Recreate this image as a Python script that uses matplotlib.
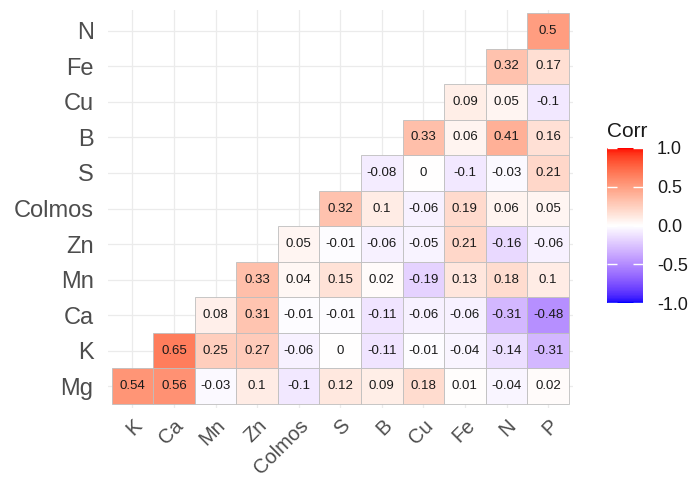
import numpy as np
import matplotlib
matplotlib.use("Agg")
import matplotlib.pyplot as plt
from matplotlib.colors import ListedColormap, Normalize
from matplotlib.cm import ScalarMappable

plt.rcParams['font.family'] = ['Liberation Sans', 'DejaVu Sans']

# ---------------- data ----------------
x_labels = ["K", "Ca", "Mn", "Zn", "Colmos", "S", "B", "Cu", "Fe", "N", "P"]
y_labels = ["Mg", "K", "Ca", "Mn", "Zn", "Colmos", "S", "B", "Cu", "Fe", "N"]

corr_Mg = [0.54, 0.56, -0.03, 0.1, -0.1, 0.12, 0.09, 0.18, 0.01, -0.04, 0.02]
corr_K = [0.65, 0.25, 0.27, -0.06, 0, -0.11, -0.01, -0.04, -0.14, -0.31]
corr_Ca = [0.08, 0.31, -0.01, -0.01, -0.11, -0.06, -0.06, -0.31, -0.48]
corr_Mn = [0.33, 0.04, 0.15, 0.02, -0.19, 0.13, 0.18, 0.1]
corr_Zn = [0.05, -0.01, -0.06, -0.05, 0.21, -0.16, -0.06]
corr_Colmos = [0.32, 0.1, -0.06, 0.19, 0.06, 0.05]
corr_S = [-0.08, 0, -0.1, -0.03, 0.21]
corr_B = [0.33, 0.06, 0.41, 0.16]
corr_Cu = [0.09, 0.05, -0.1]
corr_Fe = [0.32, 0.17]
corr_N = [0.5]

rows = [corr_Mg, corr_K, corr_Ca, corr_Mn, corr_Zn, corr_Colmos,
        corr_S, corr_B, corr_Cu, corr_Fe, corr_N]

n = len(x_labels)

# ---------------- Lab-interpolated diverging palette (like scale_fill_gradient2) ----------------
WHITE = np.array([0.95047, 1.0, 1.08883])

def srgb_to_lab(rgb):
    c = np.array(rgb, dtype=float)
    lin = np.where(c <= 0.04045, c / 12.92, ((c + 0.055) / 1.055) ** 2.4)
    M = np.array([[0.4124, 0.3576, 0.1805],
                  [0.2126, 0.7152, 0.0722],
                  [0.0193, 0.1192, 0.9505]])
    xyz = M @ lin / WHITE
    d = 6 / 29
    f = np.where(xyz > d ** 3, np.cbrt(xyz), xyz / (3 * d * d) + 4 / 29)
    return np.array([116 * f[1] - 16, 500 * (f[0] - f[1]), 200 * (f[1] - f[2])])

def lab_to_srgb(lab):
    L, a, b = lab
    fy = (L + 16) / 116
    fx = fy + a / 500
    fz = fy - b / 200
    d = 6 / 29
    f = np.array([fx, fy, fz])
    xyz = np.where(f > d, f ** 3, 3 * d * d * (f - 4 / 29)) * WHITE
    Minv = np.array([[3.2406, -1.5372, -0.4986],
                     [-0.9689, 1.8758, 0.0415],
                     [0.0557, -0.2040, 1.0570]])
    lin = Minv @ xyz
    lin = np.clip(lin, 0, 1)
    c = np.where(lin <= 0.0031308, 12.92 * lin, 1.055 * lin ** (1 / 2.4) - 0.055)
    return np.clip(c, 0, 1)

lab_low = srgb_to_lab([0, 0, 1])
lab_mid = srgb_to_lab([1, 1, 1])
lab_high = srgb_to_lab([1, 0, 0])
cols = []
for v in np.linspace(-1, 1, 256):
    if v < 0:
        lab = lab_mid + (lab_low - lab_mid) * (-v)
    else:
        lab = lab_mid + (lab_high - lab_mid) * v
    cols.append(lab_to_srgb(lab))
cmap = ListedColormap(cols)
norm = Normalize(-1, 1)

# ---------------- figure ----------------
W, H = 689, 479
fig = plt.figure(figsize=(W / 100, H / 100), dpi=100)
fig.patch.set_facecolor("white")
ax = fig.add_axes([107.5 / W, 1 - 407.5 / H, (573 - 107.5) / W, (407.5 - 9.5) / H])

for r, vals in enumerate(rows):
    xpos = np.arange(r, r + len(vals))
    ax.bar(xpos, 1.0, bottom=r - 0.5, width=1.0,
           color=[cmap(norm(v)) for v in vals],
           edgecolor="#BEBEBE", linewidth=0.6, zorder=2)
    for xp, v in zip(xpos, vals):
        ax.text(xp, r, f"{v:g}", ha="center", va="center",
                fontsize=9.5, color="#1A1A1A", zorder=3)

ax.set_xlim(-0.6, n - 0.4)
ax.set_ylim(-0.6, n - 0.4)
ax.set_xticks(np.arange(n))
ax.set_yticks(np.arange(n))
ax.set_xticklabels(x_labels, rotation=45, ha="right", va="top",
                   rotation_mode="anchor", fontsize=14.5, color="#4D4D4D")
ax.set_yticklabels(y_labels, fontsize=17, color="#4D4D4D")
ax.tick_params(axis="both", length=0)
ax.tick_params(axis="y", pad=10)
ax.tick_params(axis="x", pad=6)
ax.grid(True, color="#EBEBEB", linewidth=0.9, zorder=0)
ax.set_axisbelow(True)
for s in ax.spines.values():
    s.set_visible(False)

# colorbar
cax = fig.add_axes([607 / W, 1 - 303 / H, 36 / W, 155 / H])
sm = ScalarMappable(norm=norm, cmap=cmap)
cb = fig.colorbar(sm, cax=cax, ticks=[-1, -0.5, 0, 0.5, 1])
cb.outline.set_visible(False)
cb.ax.set_yticklabels(["-1.0", "-0.5", "0.0", "0.5", "1.0"])
cb.ax.tick_params(axis="y", direction="in", length=7, width=1, color="white",
                  left=True, right=True, labelsize=13, labelcolor="#1A1A1A", pad=10)
fig.text(607 / W, 1 - 137 / H, "Corr", ha="left", va="baseline",
         fontsize=15, color="#1A1A1A")

fig.savefig("out.png", dpi=100)
